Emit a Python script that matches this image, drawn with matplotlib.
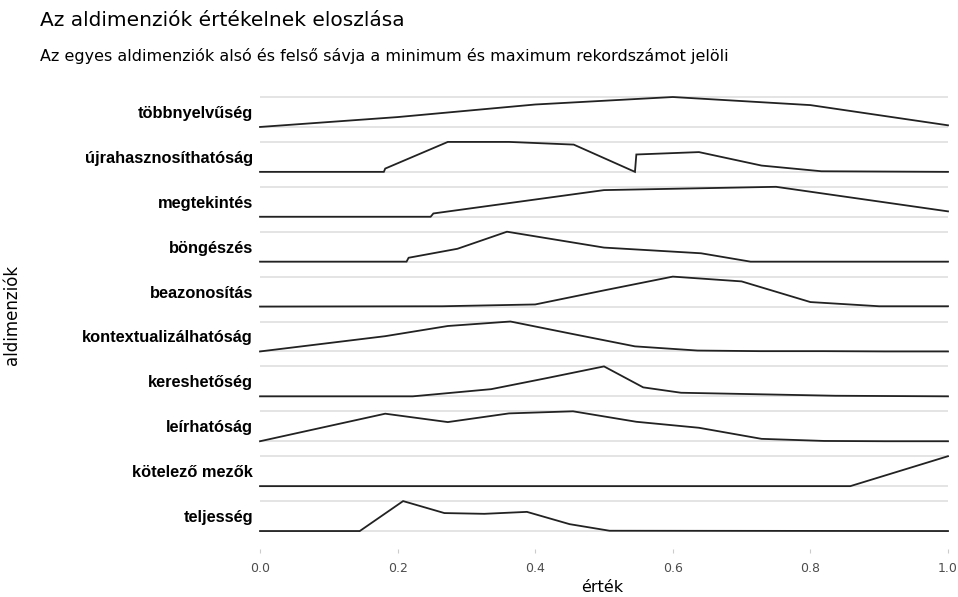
import matplotlib
matplotlib.use('Agg')
import matplotlib.pyplot as plt

plt.rcParams['font.family'] = ['DejaVu Sans']

# aldimenziók alulról felfelé
categories = ['teljesség', 'kötelező mezők', 'leírhatóság', 'kereshetőség',
              'kontextualizálhatóság', 'beazonosítás', 'böngészés',
              'megtekintés', 'újrahasznosíthatóság', 'többnyelvűség']

# (x, relatív magasság) pontok soronként
teljesseg_x = [0.0, 0.145, 0.208, 0.268, 0.326, 0.388, 0.45, 0.508, 1.0]
teljesseg_y = [0.0, 0.0, 1.0, 0.6, 0.575, 0.64, 0.23, 0.01, 0.0]

kotelezo_x = [0.0, 0.858, 1.0]
kotelezo_y = [0.0, 0.0, 1.0]

leirhatosag_x = [0.0, 0.182, 0.273, 0.362, 0.455, 0.547, 0.638, 0.729, 0.82, 0.909, 1.0]
leirhatosag_y = [0.0, 0.92, 0.64, 0.93, 1.0, 0.65, 0.45, 0.08, 0.01, 0.0, 0.0]

kereshetoseg_x = [0.0, 0.222, 0.336, 0.417, 0.5, 0.557, 0.612, 0.836, 1.0]
kereshetoseg_y = [0.0, 0.0, 0.24, 0.61, 1.0, 0.3, 0.12, 0.02, 0.0]

kontext_x = [0.0, 0.182, 0.273, 0.364, 0.455, 0.545, 0.636, 0.727, 0.818, 0.909, 1.0]
kontext_y = [0.0, 0.51, 0.85, 1.0, 0.58, 0.17, 0.03, 0.01, 0.01, 0.0, 0.0]

beazon_x = [0.0, 0.265, 0.4, 0.5, 0.6, 0.7, 0.8, 0.9, 1.0]
beazon_y = [0.0, 0.01, 0.07, 0.54, 1.0, 0.84, 0.15, 0.01, 0.01]

bongeszes_x = [0.0, 0.213, 0.216, 0.287, 0.359, 0.5, 0.641, 0.713, 1.0]
bongeszes_y = [0.0, 0.0, 0.13, 0.43, 1.0, 0.47, 0.28, 0.0, 0.0]

megtekintes_x = [0.0, 0.248, 0.252, 0.5, 0.75, 1.0]
megtekintes_y = [0.0, 0.0, 0.11, 0.89, 1.0, 0.18]

ujra_x = [0.0, 0.180, 0.182, 0.273, 0.362, 0.456, 0.545, 0.547, 0.638, 0.729, 0.816, 1.0]
ujra_y = [0.0, 0.0, 0.11, 1.0, 1.0, 0.91, 0.0, 0.58, 0.66, 0.21, 0.02, 0.0]

tobbnyelvu_x = [0.0, 0.2, 0.4, 0.6, 0.8, 1.0]
tobbnyelvu_y = [0.0, 0.33, 0.75, 1.0, 0.73, 0.055]

series_x = [teljesseg_x, kotelezo_x, leirhatosag_x, kereshetoseg_x, kontext_x,
            beazon_x, bongeszes_x, megtekintes_x, ujra_x, tobbnyelvu_x]
series_y = [teljesseg_y, kotelezo_y, leirhatosag_y, kereshetoseg_y, kontext_y,
            beazon_y, bongeszes_y, megtekintes_y, ujra_y, tobbnyelvu_y]

xticks = [0.0, 0.2, 0.4, 0.6, 0.8, 1.0]
scale = 0.667  # sáv magassága

fig = plt.figure(figsize=(9.58, 5.97), dpi=100)
ax = fig.add_axes([260 / 958, 48 / 597, 688 / 958, 460.2 / 597])

for i, (xs, ys) in enumerate(zip(series_x, series_y)):
    # alsó és felső sáv
    ax.axhline(i, color='#dcdcdc', lw=1.1, zorder=1)
    ax.axhline(i + scale, color='#dcdcdc', lw=1.1, zorder=1)
    ax.plot(xs, [i + v * scale for v in ys], color='#222222', lw=1.3,
            solid_joinstyle='miter', zorder=3, clip_on=False)

ax.set_xlim(0, 1)
ax.set_ylim(-0.4, 9.85)
ax.set_yticks([i + scale / 2 for i in range(len(categories))])
ax.set_yticklabels(categories, fontsize=11.8, fontweight='bold', color='black',
                   family='Liberation Sans')
ax.set_xticks(xticks)
ax.set_xticklabels([f'{t:.1f}' for t in xticks], fontsize=9, color='#4d4d4d')
ax.tick_params(axis='y', length=0, pad=5)
ax.tick_params(axis='x', length=3, color='#cccccc', width=0.8, pad=6)
for s in ax.spines.values():
    s.set_visible(False)

fig.text(602 / 958, 1 - 587 / 597, 'érték', ha='center', va='center', fontsize=11.5)
fig.text(12 / 958, 1 - 315 / 597, 'aldimenziók', ha='center', va='center',
         rotation=90, fontsize=12)

fig.text(40 / 958, 1 - 21 / 597, 'Az aldimenziók értékelnek eloszlása',
         ha='left', va='center', fontsize=14.5)
fig.text(40 / 958, 1 - 56 / 597,
         'Az egyes aldimenziók alsó és felső sávja a minimum és maximum rekordszámot jelöli',
         ha='left', va='center', fontsize=11.5)

fig.savefig('out.png', dpi=100)
